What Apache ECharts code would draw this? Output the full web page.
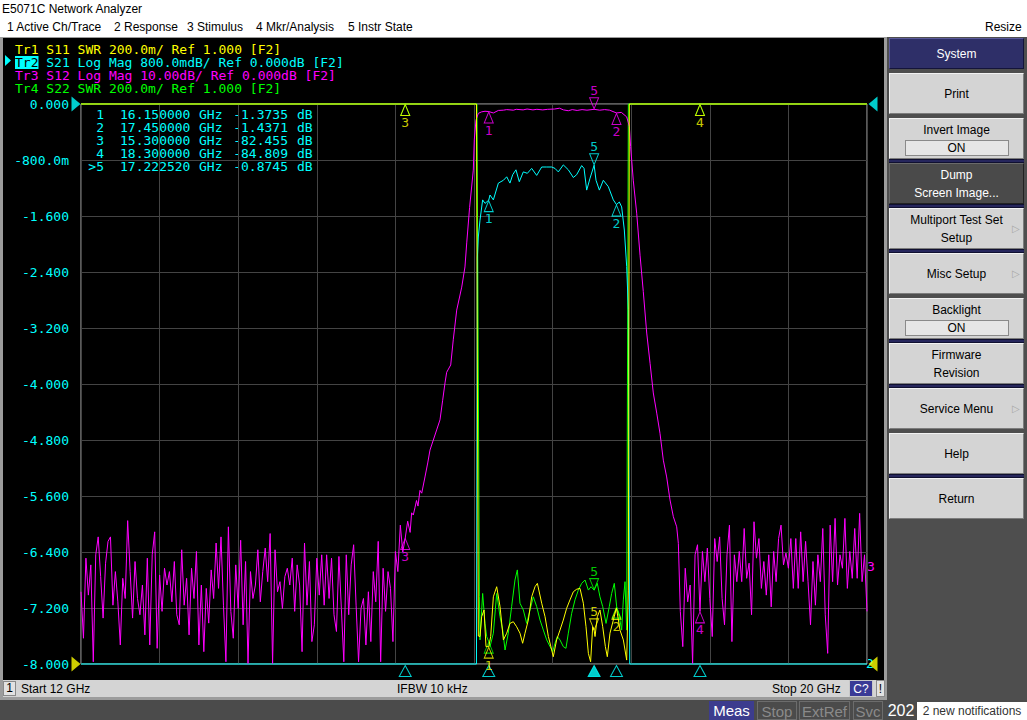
<!DOCTYPE html>
<html><head><meta charset="utf-8">
<script src="https://cdn.jsdelivr.net/npm/echarts@6/dist/echarts.min.js"></script>
<style>
html,body{margin:0;padding:0;width:1027px;height:720px;overflow:hidden;background:#f0f0f0;font-family:"Liberation Sans",Arial,sans-serif;font-size:12px;color:#000;}
.a{position:absolute;white-space:nowrap;}
#titlebar{left:0;top:0;width:1027px;height:18px;background:#fff;}
#menubar{left:0;top:18px;width:1027px;height:19px;background:#fff;}
#frame{left:0;top:37px;width:887px;height:663px;background:#9c9c9c;}
#chart{left:3px;top:38px;width:881px;height:642px;background:#000;}
#status{left:3px;top:680px;width:881px;height:17px;background:#d4d4d4;}
#bottombar{left:0;top:700px;width:1027px;height:20px;background:#4b4b4b;}
#panel{left:887px;top:37px;width:140px;height:663px;background:#4e4e4e;}
.btn{position:absolute;left:2px;width:135px;height:41px;background:#d4d4d4;border:1px solid;border-color:#f2f2f2 #7c7c7c #7c7c7c #f2f2f2;box-sizing:border-box;text-align:center;font-size:12px;display:flex;flex-direction:column;justify-content:center;line-height:18px;}
.sep{position:absolute;left:2px;width:135px;height:4px;background:#26265c;border-top:1px solid #101030;border-bottom:1px solid #101030;box-sizing:border-box;}
.on{margin:1px auto 0 auto;width:104px;height:16px;line-height:15px;background:#e6e6e6;border:1px solid #8a8a8a;box-sizing:border-box;}
.arr{position:absolute;right:3px;top:50%;margin-top:-8px;color:#a8a8a8;font-size:10px;line-height:16px;}
.bb{position:absolute;top:701px;height:19px;line-height:19px;font-size:15px;text-align:center;box-sizing:border-box;}
</style></head>
<body>
<div class="a" id="titlebar"><span class="a" style="left:2px;top:2px;">E5071C Network Analyzer</span></div>
<div class="a" id="menubar">
 <span class="a" style="left:7px;top:2px;">1 Active Ch/Trace</span>
 <span class="a" style="left:114px;top:2px;">2 Response</span>
 <span class="a" style="left:187px;top:2px;">3 Stimulus</span>
 <span class="a" style="left:256px;top:2px;">4 Mkr/Analysis</span>
 <span class="a" style="left:348px;top:2px;">5 Instr State</span>
 <span class="a" style="left:985px;top:2px;">Resize</span>
</div>
<div class="a" id="frame"></div>
<div class="a" id="chart"></div>
<div class="a" id="status">
 <span class="a" style="left:0;top:1px;width:13px;height:15px;line-height:13px;border:1px solid #8a8a8a;background:#e2e2e2;text-align:center;box-sizing:border-box;">1</span>
 <span class="a" id="stStart" style="left:18px;top:2px;"></span>
 <span class="a" style="left:394px;top:2px;">IFBW 10 kHz</span>
 <span class="a" id="stStop" style="left:769px;top:2px;"></span>
 <span class="a" style="left:846px;top:0;width:24px;height:17px;line-height:16px;background:#3a3a96;color:#fff;text-align:center;border:1px solid #c8c8c8;box-sizing:border-box;">C?</span>
 <span class="a" style="left:873px;top:0;width:9px;height:17px;line-height:16px;background:#e2e2e2;text-align:center;border:1px solid #8a8a8a;box-sizing:border-box;">!</span>
</div>
<div class="a" id="bottombar"></div>
<div class="bb" style="left:709px;width:45px;background:#3c3c8e;color:#fff;">Meas</div>
<div class="bb" style="left:757px;width:40px;color:#8a8a8a;border:1px solid #6c6c6c;">Stop</div>
<div class="bb" style="left:799px;width:51px;color:#8a8a8a;border:1px solid #6c6c6c;">ExtRef</div>
<div class="bb" style="left:853px;width:30px;color:#8a8a8a;border:1px solid #6c6c6c;">Svc</div>
<div class="bb" style="left:885px;width:32px;color:#fff;font-size:16px;">202</div>
<div class="bb" style="left:917px;top:702px;height:18px;line-height:18px;width:110px;background:#fff;color:#333;font-size:12px;">2 new notifications</div>
<div class="a" id="panel">
 <div class="btn" style="top:1px;height:31px;background:#2e2f68;color:#fff;border-color:#5a5a9a #14143a #14143a #5a5a9a;">System</div>
 <div class="btn" style="top:36px;">Print</div>
 <div class="btn" style="top:81px;"><div>Invert Image</div><div class="on">ON</div></div>
 <div class="sep" style="top:122px;"></div>
 <div class="btn" style="top:126px;background:#4a4a4a;color:#fff;border-color:#6a6a6a #222 #222 #6a6a6a;"><div>Dump</div><div>Screen Image...</div></div>
 <div class="sep" style="top:167px;"></div>
 <div class="btn" style="top:171px;"><div>Multiport Test Set</div><div>Setup</div><span class="arr">&#9655;</span></div>
 <div class="sep" style="top:212px;"></div>
 <div class="btn" style="top:216px;">Misc Setup<span class="arr">&#9655;</span></div>
 <div class="btn" style="top:261px;"><div>Backlight</div><div class="on">ON</div></div>
 <div class="sep" style="top:302px;"></div>
 <div class="btn" style="top:306px;"><div>Firmware</div><div>Revision</div></div>
 <div class="sep" style="top:347px;"></div>
 <div class="btn" style="top:351px;">Service Menu<span class="arr">&#9655;</span></div>
 <div class="btn" style="top:396px;">Help</div>
 <div class="sep" style="top:437px;"></div>
 <div class="btn" style="top:441px;">Return</div>
</div>
<script>
// ---------------- data ----------------
const xMinGHz = 12, xMaxGHz = 20, xDivGHz = 0.8;
const yTickLabels = ['0.000','-800.0m','-1.600','-2.400','-3.200','-4.000','-4.800','-5.600','-6.400','-7.200','-8.000'];
const traceNames = ['Tr1','Tr2','Tr3','Tr4'];
const traceHeaders = {
  Tr1: 'Tr1 S11 SWR 200.0m/ Ref 1.000 [F2]',
  Tr2: '{hl|Tr2} S21 Log Mag 800.0mdB/ Ref 0.000dB [F2]',
  Tr3: 'Tr3 S12 Log Mag 10.00dB/ Ref 0.000dB [F2]',
  Tr4: 'Tr4 S22 SWR 200.0m/ Ref 1.000 [F2]'
};
// sweep step of the noise-floor readings (GHz)
const noiseStepGHz = 0.025;
// S12 (dB) noise floor, 12.000 GHz upward
const s12LowStartGHz = 12.0;
const s12LowDb = [
 -87.1,-95.4,-81.1,-87.7,-82.3,-99.6,-80.5,-77.3,-84.4,-91.8,
 -82.0,-78.1,-77.3,-89.5,-83.5,-88.9,-96.6,-84.7,-88.3,-74.4,
 -83.5,-91.8,-81.7,-88.3,-91.2,-85.9,-94.8,-81.1,-96.6,-80.5,
 -76.4,-97.2,-84.1,-90.6,-82.9,-85.9,-83.5,-88.9,-81.7,-91.2,
 -93.0,-79.6,-89.5,-84.7,-94.8,-82.9,-88.3,-79.9,-96.6,-85.9,
 -97.8,-86.5,-92.7,-83.2,-88.3,-78.4,-86.5,-77.3,-89.5,-99.6,
 -75.5,-90.6,-95.4,-82.3,-90.1,-77.9,-93.0,-81.7,-99.9,
 -83.5,-88.3,-85.9,-79.6,-88.9,-83.5,-79.3,-85.3,-76.7,-99.9,
 -79.6,-87.1,-85.3,-90.1,-84.4,-82.9,-85.9,-81.1,-90.6,-82.3,
 -85.9,-97.8,-78.4,-89.5,-81.7,-96.0,-93.0,-81.1,-87.7,-80.5,
 -89.5,-80.5,-88.3,-81.1,-91.2,-94.2,-80.8,-90.1,-99.6,-80.5,
 -91.2,-82.3,-78.7,-89.5,-99.6,-90.1,-88.3,-96.6,-87.1,-96.0,
 -83.5,-88.9,-78.1,-99.6,-82.9,-90.6,-83.5,-86.5,-96.0,-79.9,
 -83.5,-75.2
];
// S12 (dB) skirts and passband, [GHz, dB]
const s12BandPts = [
 [15.275,-80.0],[15.300,-77.5],[15.325,-74.5],[15.350,-76.5],[15.365,-73.0],[15.382,-73.4],[15.400,-72.0],
 [15.415,-70.8],[15.430,-71.8],[15.450,-69.0],[15.468,-69.5],[15.501,-66.6],[15.529,-64.1],[15.552,-61.8],
 [15.586,-60.0],[15.620,-58.2],[15.654,-56.4],[15.681,-52.9],[15.705,-49.8],[15.722,-47.9],[15.763,-46.6],
 [15.789,-42.1],[15.824,-36.8],[15.875,-32.7],[15.908,-29.1],[15.926,-24.8],[15.955,-18.5],[15.993,-11.8],
 [16.003,-6.4],[16.020,-2.9],[16.044,-1.67],[16.078,-1.4],[16.112,-1.3],[16.150,-1.35],[16.197,-1.6],
 [16.248,-1.15],[16.299,-1.1],[16.333,-1.0],[16.400,-1.1],[16.430,-0.95],[16.500,-1.05],[16.540,-0.9],
 [16.600,-1.05],[16.640,-0.95],[16.700,-1.05],[16.750,-0.95],[16.820,-0.9],[16.870,-0.75],[16.910,-1.05],
 [16.960,-1.2],[17.000,-1.0],[17.050,-1.15],[17.100,-1.0],[17.150,-1.1],[17.2225,-0.95],[17.280,-1.1],
 [17.330,-1.0],[17.380,-1.1],[17.450,-1.6],[17.500,-1.5],[17.554,-2.3],[17.581,-4.0],[17.594,-7.6],
 [17.621,-13.6],[17.656,-19.5],[17.690,-27.0],[17.723,-33.5],[17.758,-40.9],[17.792,-46.3],[17.825,-51.6],
 [17.860,-55.2],[17.893,-58.8],[17.927,-63.6],[17.961,-66.6],[17.995,-70.7],[18.029,-73.7],[18.063,-75.5],
 [18.080,-78.5]
];
// S12 (dB) noise floor, 18.100 GHz upward
const s12HighStartGHz = 18.1;
const s12HighDb = [
 -90.6,-96.9,-82.9,-88.9,-85.9,-99.9,-80.5,-78.7,-90.6,-79.9,
 -85.3,-79.3,-88.3,-95.1,-77.6,-81.7,-77.3,-88.3,-93.0,-80.5,
 -75.2,-96.0,-80.5,-85.3,-79.9,-85.3,-75.8,-84.7,-82.0,-91.2,
 -74.6,-81.1,-77.6,-86.5,-81.7,-87.7,-80.5,-89.8,-79.9,-85.3,
 -77.6,-75.2,-82.3,-80.2,-82.9,-77.6,-86.5,-77.6,-86.5,-76.4,
 -85.3,-78.1,-85.3,-93.0,-81.7,-89.5,-80.5,-85.3,-75.8,-91.2,
 -98.1,-75.2,-85.3,-74.0,-85.9,-80.5,-82.9,-74.0,-86.5,-79.9,
 -84.7,-75.8,-84.7,-73.1,-85.3,-80.5,-90.6
];
// S21 (dB), [GHz, dB]
const s21Pts = [
 [12.0,-85.0],[15.3,-82.455],[16.025,-40.0],[16.034,-2.2],[16.044,-1.9],[16.061,-1.66],[16.088,-1.37],
 [16.112,-1.42],[16.150,-1.3735],[16.163,-1.30],[16.197,-1.37],[16.248,-1.13],[16.299,-1.09],[16.333,-1.04],
 [16.366,-1.13],[16.394,-1.01],[16.427,-0.94],[16.461,-1.11],[16.502,-0.97],[16.543,-0.99],[16.587,-0.92],
 [16.638,-1.02],[16.689,-0.90],[16.740,-0.90],[16.791,-0.90],[16.824,-0.92],[16.858,-0.97],[16.909,-0.87],
 [16.960,-0.94],[17.011,-1.05],[17.045,-1.01],[17.096,-0.88],[17.120,-0.92],[17.147,-1.23],[17.181,-1.06],
 [17.2225,-0.8745],[17.242,-1.09],[17.276,-1.23],[17.316,-1.09],[17.367,-1.18],[17.418,-1.37],[17.450,-1.4371],
 [17.479,-1.40],[17.503,-1.47],[17.530,-1.80],[17.554,-2.32],[17.571,-2.94],[17.585,-40.0],[18.3,-84.809],
 [20.0,-85.0]
];
// S11 SWR, [GHz, SWR] (out-of-band readings are off-scale high)
const s11Pts = [
 [12.0,3.0],[16.025,3.0],[16.044,1.10],[16.061,1.098],[16.078,1.169],[16.102,1.193],[16.122,1.062],
 [16.150,1.062],[16.170,1.098],[16.197,1.240],[16.231,1.276],[16.265,1.205],[16.299,1.086],[16.333,1.110],
 [16.366,1.145],[16.400,1.151],[16.434,1.133],[16.468,1.110],[16.495,1.074],[16.519,1.110],[16.553,1.157],
 [16.587,1.240],[16.621,1.276],[16.645,1.288],[16.689,1.217],[16.723,1.169],[16.757,1.098],[16.791,1.050],
 [16.807,1.026],[16.841,1.086],[16.875,1.121],[16.909,1.157],[16.943,1.199],[16.977,1.229],[17.011,1.258],
 [17.045,1.267],[17.079,1.270],[17.113,1.217],[17.140,1.133],[17.164,1.038],[17.187,1.008],[17.208,1.133],
 [17.2225,1.12],[17.232,1.098],[17.255,1.169],[17.282,1.193],[17.310,1.133],[17.337,1.062],[17.357,1.026],
 [17.384,1.110],[17.418,1.157],[17.450,1.20],[17.486,1.121],[17.520,1.086],[17.554,1.014],[17.571,1.264],
 [17.581,3.0],[20.0,3.0]
];
// S22 SWR, [GHz, SWR]
const s22Pts = [
 [12.0,3.0],[16.030,3.0],[16.055,1.24],[16.061,1.086],[16.088,1.252],[16.112,1.145],[16.129,1.098],
 [16.150,1.08],[16.163,1.062],[16.197,1.110],[16.231,1.252],[16.265,1.169],[16.292,1.121],[16.316,1.050],
 [16.349,1.110],[16.383,1.205],[16.417,1.300],[16.441,1.336],[16.468,1.217],[16.502,1.193],[16.536,1.145],
 [16.570,1.193],[16.604,1.240],[16.638,1.205],[16.672,1.157],[16.706,1.121],[16.740,1.086],[16.774,1.062],
 [16.801,1.044],[16.824,1.074],[16.848,1.098],[16.875,1.086],[16.909,1.062],[16.936,1.056],[16.960,1.110],
 [16.994,1.181],[17.028,1.229],[17.062,1.264],[17.096,1.288],[17.130,1.300],[17.164,1.264],[17.191,1.276],
 [17.2225,1.264],[17.255,1.288],[17.282,1.240],[17.310,1.205],[17.344,1.145],[17.377,1.205],[17.401,1.252],
 [17.428,1.288],[17.452,1.205],[17.479,1.169],[17.503,1.121],[17.520,1.229],[17.537,1.294],[17.554,1.121],
 [17.571,3.0],[20.0,3.0]
];
// markers
const markerIds = ['1','2','3','4','5'];
const activeMarker = '5';
const markerFreqGHz = [16.15, 17.45, 15.3, 18.3, 17.22252];
const markerS21dB = [-1.3735, -1.4371, -82.455, -84.809, -0.8745];
const markerS12dB = [-1.35, -1.6, -77.5, -90.6, -0.95];
const markerS11Swr = [1.062, 1.20, 3.0, 3.0, 1.12];
const markerS22Swr = [1.08, 1.205, 3.0, 3.0, 1.264];
// Tr4 marker numbers that are not hidden behind Tr1's identical markers
const tr4LabelledMarkers = ['5'];

// ---------------- chart ----------------
document.getElementById('stStart').textContent = 'Start ' + xMinGHz + ' GHz';
document.getElementById('stStop').textContent = 'Stop ' + xMaxGHz + ' GHz';

const MONO = '"DejaVu Sans Mono", "Liberation Mono", monospace';
const COL = {s11:'#ffff00', s21:'#00ffff', s12:'#ff00ff', s22:'#00ff00'};
const RANGE = {s21:[-8,0], s12:[-100,0], swr:[1,3]};
const clamp = (v, r) => Math.min(r[1], Math.max(r[0], v));

const s12Pts = s12LowDb.map((v,i)=>[+(s12LowStartGHz + i*noiseStepGHz).toFixed(3), v])
  .concat(s12BandPts)
  .concat(s12HighDb.map((v,j)=>[+(s12HighStartGHz + j*noiseStepGHz).toFixed(3), v]));

function lineSeries(name, pts, yIdx, range, color){
  return {name, type:'line', yAxisIndex:yIdx, data: pts.map(p=>[p[0], clamp(p[1], range)]),
    symbol:'none', showSymbol:false, clip:false, silent:true, animation:false,
    lineStyle:{color, width:1}, itemStyle:{color}, emphasis:{disabled:true}};
}
function markerSeries(name, vals, yIdx, range, color, labelled){
  const data = [];
  markerIds.forEach((id,k)=>{
    const v = vals[k];
    if (v < range[0] || v > range[1]) return; // off-screen marker not drawn
    const act = id === activeMarker;
    data.push({name:id, value:[markerFreqGHz[k], v],
      symbolRotate: act ? 180 : 0,
      symbolOffset: act ? [0,-6] : [0,6],
      label:{show: !labelled || labelled.includes(id), position: act ? 'top' : 'bottom'}});
  });
  return {name, type:'scatter', yAxisIndex:yIdx, data, symbol:'triangle', symbolSize:[9,11],
    clip:false, silent:true, animation:false,
    itemStyle:{color:'rgba(0,0,0,0)', borderColor:color, borderWidth:1},
    label:{show:true, formatter:'{b}', color, fontFamily:MONO, fontSize:13, distance:0}};
}

const chart = echarts.init(document.getElementById('chart'), null, {renderer:'svg'});
const legendRich = {hl:{color:'#000', backgroundColor:'#00ffff', fontFamily:MONO, fontSize:13, lineHeight:12}};
const tableTop = 69.5, tableLH = 13;
const fmtVal = v => Math.abs(v) >= 10 ? v.toFixed(3) : v.toFixed(4);
const tableFont = '13px ' + MONO;

chart.setOption({
  backgroundColor:'#000',
  animation:false,
  grid:{left:78, top:66, width:786, height:560, show:true, borderColor:'#b4b4b4', borderWidth:1, backgroundColor:'transparent'},
  legend:{
    data: [
      {name:'Tr1', textStyle:{color:COL.s11}},
      {name:'Tr2', textStyle:{color:COL.s21}},
      {name:'Tr3', textStyle:{color:COL.s12}},
      {name:'Tr4', textStyle:{color:COL.s22}}
    ],
    orient:'vertical', left:7, top:5, itemGap:0, itemWidth:0, itemHeight:12, icon:'none',
    selectedMode:false, padding:0,
    formatter: n => traceHeaders[n],
    textStyle:{fontFamily:MONO, fontSize:13, lineHeight:12, rich:legendRich}
  },
  xAxis:{type:'value', min:xMinGHz, max:xMaxGHz, interval:xDivGHz,
    axisLine:{show:false}, axisTick:{show:false}, axisLabel:{show:false},
    splitLine:{show:true, lineStyle:{color:'#444444', width:1}}},
  yAxis:[
    {type:'value', min:RANGE.s21[0], max:RANGE.s21[1], interval:0.8,
      axisLine:{show:false}, axisTick:{show:false},
      axisLabel:{margin:12, color:'#00ffff', fontFamily:MONO, fontSize:13,
        formatter: v => yTickLabels[Math.round(-v/0.8)]},
      splitLine:{show:true, lineStyle:{color:'#444444', width:1}}},
    {type:'value', min:RANGE.s12[0], max:RANGE.s12[1], show:false, splitLine:{show:false}},
    {type:'value', min:RANGE.swr[0], max:RANGE.swr[1], show:false, splitLine:{show:false}}
  ],
  series:[
    lineSeries('Tr4', s22Pts, 2, RANGE.swr, COL.s22),
    lineSeries('Tr2', s21Pts, 0, RANGE.s21, COL.s21),
    lineSeries('Tr3', s12Pts, 1, RANGE.s12, COL.s12),
    lineSeries('Tr1', s11Pts, 2, RANGE.swr, COL.s11),
    markerSeries('Tr4 markers', markerS22Swr, 2, RANGE.swr, COL.s22, tr4LabelledMarkers),
    markerSeries('Tr3 markers', markerS12dB, 1, RANGE.s12, COL.s12),
    markerSeries('Tr2 markers', markerS21dB, 0, RANGE.s21, COL.s21),
    markerSeries('Tr1 markers', markerS11Swr, 2, RANGE.swr, COL.s11),
    // stimulus indicators of the active trace's markers, under the graticule
    {name:'marker stimulus', type:'scatter', yAxisIndex:0, clip:false, silent:true, animation:false,
      symbol:'triangle', symbolSize:[12,11],
      data: markerIds.map((id,k)=>({name:id, value:[markerFreqGHz[k], RANGE.s21[0]], symbolOffset:[0,7],
        itemStyle:{color: id===activeMarker ? COL.s21 : 'rgba(0,0,0,0)', borderColor:COL.s21, borderWidth:1}}))},
    // reference-position indicators
    {name:'ref S21', type:'scatter', yAxisIndex:0, clip:false, silent:true, animation:false,
      symbol:'triangle', symbolSize:[15,9], itemStyle:{color:COL.s21},
      data:[{value:[xMinGHz, 0], symbolRotate:-90, symbolOffset:[-5,0]},
            {value:[xMaxGHz, 0], symbolRotate:90, symbolOffset:[6,0]}]},
    {name:'ref S11', type:'scatter', yAxisIndex:2, clip:false, silent:true, animation:false,
      symbol:'triangle', symbolSize:[15,9], itemStyle:{color:COL.s11},
      data:[{value:[xMinGHz, 1], symbolRotate:-90, symbolOffset:[-5,0]},
            {value:[xMaxGHz, 1], symbolRotate:90, symbolOffset:[6,0]}]}
  ],
  graphic:[
    {type:'polygon', shape:{points:[[2,17],[8,22.5],[2,28]]}, style:{fill:COL.s21}, silent:true},
    {type:'text', x:101, y:tableTop, silent:true,
      style:{text: markerIds.map(id => (id===activeMarker ? '>' : '') + id).join('\n'), fill:COL.s21,
        font:tableFont, lineHeight:tableLH, align:'right'}},
    {type:'text', x:117, y:tableTop, silent:true,
      style:{text: markerFreqGHz.map(f=>f.toFixed(6)).join('\n'), fill:COL.s21, font:tableFont, lineHeight:tableLH}},
    {type:'text', x:196, y:tableTop, silent:true,
      style:{text: markerIds.map(()=> 'GHz').join('\n'), fill:COL.s21, font:tableFont, lineHeight:tableLH}},
    {type:'text', x:285, y:tableTop, silent:true,
      style:{text: markerS21dB.map(fmtVal).join('\n'), fill:COL.s21, font:tableFont, lineHeight:tableLH, align:'right'}},
    {type:'text', x:294, y:tableTop, silent:true,
      style:{text: markerIds.map(()=> 'dB').join('\n'), fill:COL.s21, font:tableFont, lineHeight:tableLH}},
    {type:'text', x:864, y:522, silent:true, style:{text:'3', fill:COL.s12, font:tableFont}},
    {type:'text', x:863, y:619, silent:true, style:{text:'2', fill:COL.s21, font:tableFont}}
  ]
});
</script>
</body></html>
